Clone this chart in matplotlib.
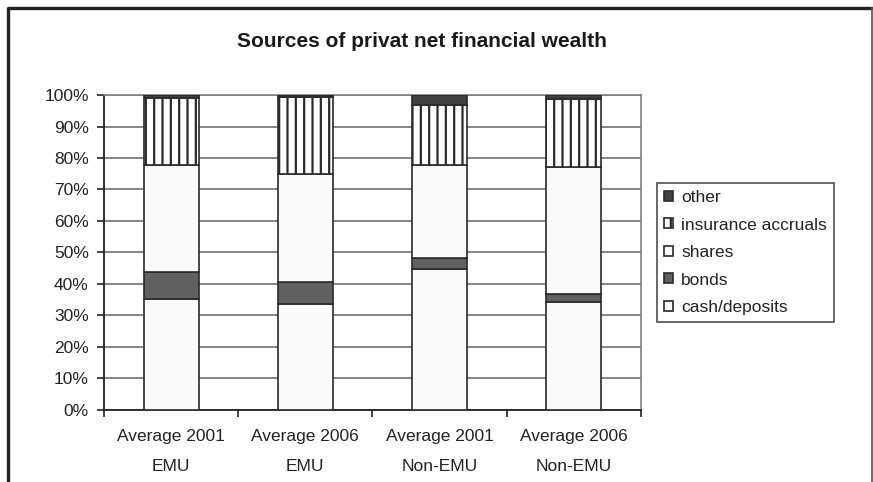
import numpy as np
import matplotlib
matplotlib.use("Agg")
import matplotlib.pyplot as plt
from matplotlib.lines import Line2D

plt.rcParams['font.family'] = ['Liberation Sans', 'DejaVu Sans']
plt.rcParams['hatch.linewidth'] = 1.6
plt.rcParams['hatch.color'] = '#111111'

# data (shares of total, %)
categories = ['Average 2001\nEMU', 'Average 2006\nEMU', 'Average 2001\nNon-EMU', 'Average 2006\nNon-EMU']
cash_deposits = [35.2, 33.5, 44.7, 34.3]
bonds = [8.5, 7.1, 3.5, 2.4]
shares = [34.1, 34.4, 29.6, 40.5]
insurance = [21.2, 24.5, 19.0, 21.4]
other = [1.0, 0.5, 3.2, 1.4]

series = [
    ('cash/deposits', cash_deposits, '#fafafa', None),
    ('bonds', bonds, '#606060', None),
    ('shares', shares, '#fafafa', None),
    ('insurance accruals', insurance, '#ffffff', '||'),
    ('other', other, '#404040', None),
]

fig = plt.figure(figsize=(8.73, 4.82), dpi=100)
ax = fig.add_axes([0.1191, 0.1494, 0.6151, 0.6535])

x = np.arange(len(categories))
bottom = np.zeros(len(categories))
handles = []
for label, vals, color, hatch in series:
    bars = ax.bar(x, vals, width=0.41, bottom=bottom, color=color,
                  edgecolor='#2a2a2a', linewidth=1.2, hatch=hatch,
                  label=label, zorder=3)
    handles.append(bars)
    bottom += np.array(vals)

ax.set_xlim(-0.5, len(categories) - 0.5)
ax.set_ylim(0, 100)
ax.set_yticks(np.arange(0, 101, 10))
ax.set_yticklabels([f'{v}%' for v in range(0, 101, 10)], fontsize=12.5, color='#222222')
ax.yaxis.grid(True, color='#707070', linewidth=1.2, zorder=0)
ax.set_axisbelow(True)

ax.set_xticks(x)
ax.set_xticklabels(categories, fontsize=12.5, linespacing=2.25, color='#222222')
ax.tick_params(axis='x', length=0, pad=14)
ax.set_xticks(np.arange(-0.5, len(categories), 1), minor=True)
ax.tick_params(axis='x', which='minor', length=5, width=1.2, color='#222222')
ax.tick_params(axis='y', length=5, width=1.2, color='#222222', pad=6)

for side in ['top', 'right']:
    ax.spines[side].set_color('#808080')
    ax.spines[side].set_linewidth(1.2)
for side in ['left', 'bottom']:
    ax.spines[side].set_color('#222222')
    ax.spines[side].set_linewidth(1.3)

fig.text(0.4834, 0.9025, 'Sources of privat net financial wealth',
         ha='center', va='baseline', fontsize=15, fontweight='bold', color='#1a1a1a')

leg = fig.legend(handles[::-1], [s[0] for s in series][::-1],
                 loc='upper left', bbox_to_anchor=(0.7526, 0.620),
                 fontsize=12.5, frameon=True, fancybox=False, borderpad=0.4,
                 handlelength=0.5, handleheight=0.5, handletextpad=0.5,
                 labelspacing=0.72, borderaxespad=0)
leg.get_frame().set_edgecolor('#222222')
leg.get_frame().set_linewidth(1.2)
for t in leg.get_texts():
    t.set_color('#222222')

# outer chart frame
fig.lines.append(Line2D([0.009, 0.009, 0.999], [0.0, 0.983, 0.983], transform=fig.transFigure,
                        color='#222222', linewidth=2.4))
fig.lines.append(Line2D([0.9985, 0.9985], [0.0, 0.983], transform=fig.transFigure,
                        color='#555555', linewidth=1.2))

fig.savefig('out.png', dpi=100)
